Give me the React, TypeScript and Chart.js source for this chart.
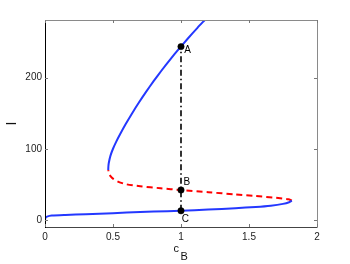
import React, { useEffect, useRef } from "react";
import { Chart, registerables } from "chart.js";

Chart.register(...registerables);

// Lower stable branch (blue, solid)
const lowerX = [0, 0.004, 0.015, 0.05, 0.15, 0.3, 0.5, 0.7, 0.9, 1.0, 1.2, 1.4, 1.55, 1.66, 1.75, 1.795, 1.815];
const lowerI = [0, 3, 4.6, 6, 7, 8, 9.4, 11.2, 12.3, 12.8, 14.5, 16.5, 18.2, 20, 22.5, 24.8, 27];
// Middle unstable branch (red, dashed)
const middleX = [1.815, 1.79, 1.7, 1.55, 1.4, 1.2, 1.0, 0.85, 0.7, 0.6, 0.54, 0.5, 0.48, 0.468, 0.465];
const middleI = [27, 29, 31, 33.5, 35.8, 38.9, 42, 44.5, 47.3, 50, 53.5, 58, 62, 66, 70];
// Upper stable branch (blue, solid)
const upperX = [0.465, 0.466, 0.469, 0.481, 0.5, 0.524, 0.551, 0.5945, 0.641, 0.6905, 0.743, 0.7985, 0.857, 0.9185, 0.983, 1.0505, 1.121, 1.175];
const upperI = [70, 75, 80, 90, 100, 110, 120, 135, 150, 165, 180, 195, 210, 225, 240, 255, 270, 281];
// Marked states at c_B = 1
const pointLabels = ["A", "B", "C"];
const pointX = [1, 1, 1];
const pointI = [243.6, 42, 12.8];
// Axis ticks
const xTicks = [0, 0.5, 1, 1.5, 2];
const yTicks = [0, 100, 200];
const xMin = 0, xMax = 2, yMin = -10, yMax = 281;

const toXY = (xs: number[], ys: number[]) => xs.map((x, i) => ({ x, y: ys[i] }));

const BLUE = "rgb(36,56,255)";
const RED = "rgb(255,0,0)";
const FONT = "'Liberation Sans', Arial, Helvetica, sans-serif";

const labelOffsets: Record<string, [number, number]> = {
  A: [6.5, 3.5],
  B: [5.8, -8.2],
  C: [4.3, 8.3],
};

const decor = {
  id: "decor",
  afterDraw(chart: any) {
    const { ctx, chartArea, scales } = chart;
    const { left, right, top, bottom } = chartArea;
    const xs = scales.x;
    const ys = scales.y;
    ctx.save();
    // box
    ctx.lineWidth = 1;
    ctx.strokeStyle = "#8a8a8a";
    ctx.beginPath();
    ctx.moveTo(left, top + 0.5);
    ctx.lineTo(right + 0.5, top + 0.5);
    ctx.lineTo(right + 0.5, bottom);
    ctx.stroke();
    ctx.strokeStyle = "#444";
    ctx.beginPath();
    ctx.moveTo(left, bottom + 0.5);
    ctx.lineTo(right + 0.5, bottom + 0.5);
    ctx.stroke();
    ctx.strokeStyle = "#000";
    ctx.beginPath();
    ctx.moveTo(left + 0.5, top);
    ctx.lineTo(left + 0.5, bottom + 1);
    ctx.stroke();
    // ticks (inside)
    ctx.strokeStyle = "#777";
    const tl = 3;
    xTicks.forEach((v) => {
      const px = Math.round(xs.getPixelForValue(v)) + 0.5;
      ctx.beginPath();
      ctx.moveTo(px, bottom);
      ctx.lineTo(px, bottom - tl);
      ctx.moveTo(px, top);
      ctx.lineTo(px, top + tl);
      ctx.stroke();
    });
    yTicks.forEach((v) => {
      const py = Math.round(ys.getPixelForValue(v)) + 0.5;
      ctx.beginPath();
      ctx.moveTo(left, py);
      ctx.lineTo(left + tl, py);
      ctx.moveTo(right, py);
      ctx.lineTo(right - tl, py);
      ctx.stroke();
    });
    // point labels
    ctx.fillStyle = "#000";
    ctx.font = `10px ${FONT}`;
    ctx.textAlign = "center";
    ctx.textBaseline = "middle";
    pointLabels.forEach((lab, i) => {
      const px = xs.getPixelForValue(pointX[i]);
      const py = ys.getPixelForValue(pointI[i]);
      const [dx, dy] = labelOffsets[lab];
      ctx.fillText(lab, px + dx, py + dy + 0.5);
    });
    // x-axis title c_B
    const cx = (left + right) / 2;
    ctx.fillStyle = "#111";
    ctx.textAlign = "left";
    ctx.textBaseline = "alphabetic";
    ctx.font = `11px ${FONT}`;
    ctx.fillText("c", cx - 7.5, 252);
    ctx.fillText("B", cx - 0.5, 260);
    ctx.restore();
  },
};

export default function App() {
  const ref = useRef<HTMLCanvasElement>(null);
  useEffect(() => {
    if (!ref.current) return;
    const chart = new Chart(ref.current, {
      type: "scatter",
      data: {
        datasets: [
          {
            label: "points",
            data: toXY(pointX, pointI),
            showLine: false,
            pointRadius: 3.2,
            pointBackgroundColor: "#000",
            pointBorderColor: "#000",
            pointBorderWidth: 0.5,
          },
          {
            label: "vertical",
            data: [
              { x: pointX[2], y: pointI[2] },
              { x: pointX[0], y: pointI[0] },
            ],
            showLine: true,
            borderColor: "#000",
            borderWidth: 1.6,
            borderDash: [6, 3, 1.5, 3],
            pointRadius: 0,
          },
          {
            label: "lower",
            data: toXY(lowerX, lowerI),
            showLine: true,
            borderColor: BLUE,
            borderWidth: 2,
            pointRadius: 0,
            tension: 0.25,
          },
          {
            label: "middle",
            data: toXY(middleX, middleI),
            showLine: true,
            borderColor: RED,
            borderWidth: 2,
            borderDash: [6, 4],
            pointRadius: 0,
            tension: 0.25,
          },
          {
            label: "upper",
            data: toXY(upperX, upperI),
            showLine: true,
            borderColor: BLUE,
            borderWidth: 2,
            pointRadius: 0,
            tension: 0.2,
          },
        ],
      },
      options: {
        animation: false,
        responsive: false,
        maintainAspectRatio: false,
        events: [],
        layout: { padding: { left: 0, top: 20, right: 33, bottom: 0 } },
        plugins: {
          legend: { display: false },
          tooltip: { enabled: false },
          title: { display: false },
        },
        scales: {
          x: {
            type: "linear",
            min: xMin,
            max: xMax,
            grid: { display: false, drawTicks: false },
            border: { display: false },
            afterBuildTicks: (s: any) => {
              s.ticks = xTicks.map((v) => ({ value: v }));
            },
            afterFit: (s: any) => {
              s.height = 37;
            },
            ticks: {
              padding: 4,
              color: "#222",
              font: { family: FONT, size: 10 },
              maxRotation: 0,
              callback: (v: any) => String(v),
            },
          },
          y: {
            type: "linear",
            min: yMin,
            max: yMax,
            grid: { display: false, drawTicks: false },
            border: { display: false },
            afterBuildTicks: (s: any) => {
              s.ticks = yTicks.map((v) => ({ value: v }));
            },
            afterFit: (s: any) => {
              s.width = 45;
            },
            ticks: {
              padding: 3,
              color: "#222",
              font: { family: FONT, size: 10 },
              callback: (v: any) => String(v),
            },
            title: {
              display: true,
              text: "I",
              color: "#111",
              font: { family: FONT, size: 14 },
              padding: { top: 4, bottom: 0 },
            },
          },
        },
      },
      plugins: [decor],
    });
    return () => chart.destroy();
  }, []);
  return (
    <div style={{ position: "fixed", left: 0, top: 0, width: 350, height: 264, background: "#fff" }}>
      <canvas ref={ref} width={350} height={264} style={{ display: "block" }} />
    </div>
  );
}
